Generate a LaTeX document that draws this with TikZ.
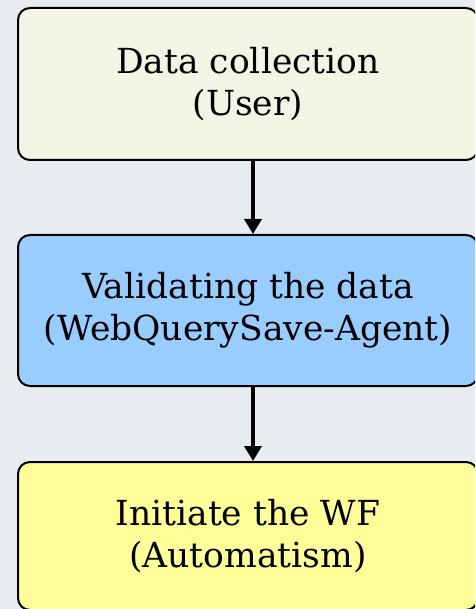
\documentclass[tikz,border=0pt]{standalone}
\usepackage{xcolor}
\usepackage{fontspec}
\setmainfont{DejaVu Serif}
\usetikzlibrary{arrows.meta}

\definecolor{backgr}{HTML}{E6ECF0}
\definecolor{usercol}{HTML}{F3F4E4}
\definecolor{agentcol}{HTML}{99CCFF}
\definecolor{autocol}{HTML}{FFFF99}

\tikzset{
	stage/.style={draw, line width=2pt, rounded corners=12pt, minimum width=460pt,
		align=center, font=\fontsize{34.5}{42}\selectfont},
	flow/.style={line width=4.6pt, -{Triangle[width=17pt,length=15pt]}}
}

\begin{document}
\begin{tikzpicture}
		\fill[backgr] (0,0) rectangle (475pt,-609pt);
		\useasboundingbox (0,0) rectangle (475pt,-609pt);
		\begin{scope}
		\clip (0,0) rectangle (475pt,-609pt);
		\node[stage, fill=usercol, minimum height=152pt] (user) at (248pt,-84pt) {Data collection\\(User)};
		\node[stage, fill=agentcol, minimum height=151pt] (agent) at (248pt,-310.5pt) {Validating the data\\(WebQuerySave-Agent)};
		\node[stage, fill=autocol, minimum height=148pt] (auto) at (248pt,-536pt) {Initiate the WF\\(Automatism)};
		\end{scope}
		\draw [flow] ([xshift=5pt]user.south) -- ([xshift=5pt]agent.north);
		\draw [flow] ([xshift=5pt]agent.south) -- ([xshift=5pt]auto.north);
	\end{tikzpicture}
\end{document}
